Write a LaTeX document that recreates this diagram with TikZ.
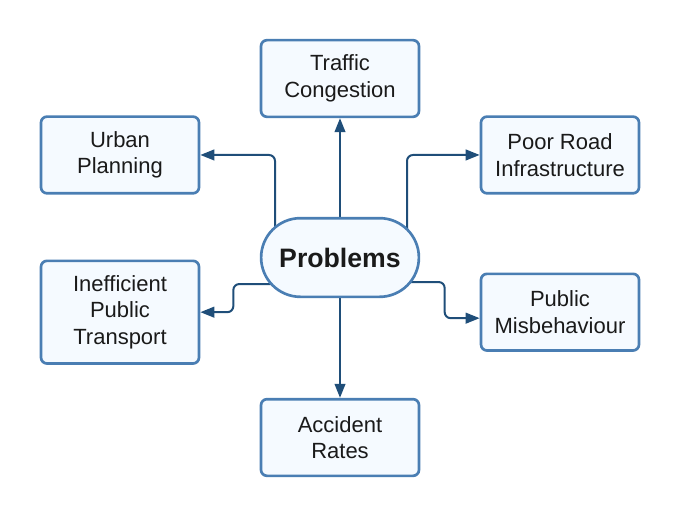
\documentclass[tikz,border=0pt]{standalone}
\usepackage{fontspec}
\setmainfont{Liberation Sans}
\usepackage{xcolor}
\usetikzlibrary{positioning, shapes.misc, arrows.meta, backgrounds}

\definecolor{boxline}{HTML}{4A7EB3}
\definecolor{boxfill}{HTML}{F5FAFF}
\definecolor{linkcol}{HTML}{1F4E79}
\definecolor{txt}{HTML}{1A1A1A}

\begin{document}
\begin{tikzpicture}[x=0.75pt, y=-0.75pt, on grid,
    box/.style={draw=boxline, fill=boxfill, line width=2pt, rounded corners=4.5pt,
        minimum width=118.5pt, minimum height=57.5pt, align=center, text=txt,
        font=\fontsize{16.5}{20}\selectfont},
    hub/.style={rounded rectangle, draw=boxline, fill=boxfill, line width=2pt,
        minimum width=125pt, minimum height=59pt, text=txt,
        font=\fontsize{20}{23}\selectfont\bfseries},
    link/.style={draw=linkcol, line width=1.5pt, rounded corners=4.5pt,
        -{Triangle[length=10.5pt, width=8pt]}}]
        \useasboundingbox (0,0) rectangle (680,517);

        \node[hub] (prob) at (340,257.5) {Problems};
        \node[box] (traffic) [above=134.25pt of prob] {Traffic\\Congestion};
        \node[box] (accident) [below=135pt of prob] {Accident\\Rates};
        \node[box] (urban) [above left=76.9pt and 165pt of prob] {Urban\\Planning};
        \node[box] (road) [above right=76.9pt and 165pt of prob] {Poor Road\\Infrastructure};
        \node[box, minimum height=77pt] (transport) [below left=41pt and 165pt of prob] {Inefficient\\Public\\Transport};
        \node[box] (misbehave) [below right=41pt and 165pt of prob] {Public\\Misbehaviour};

        \begin{scope}[on background layer]
        \path[link]
        (prob.center) -- (traffic.south);
        \path[link]
        (prob.center) -- (accident.north);
        \path[link]
        ([xshift=-48.75pt]prob.center) |- (urban.east);
        \path[link]
        ([xshift=50.25pt]prob.center) |- (road.west);
        \path[link]
        ([yshift=-19.9pt]prob.center) -| ([xshift=24.75pt]transport.east) -- (transport.east);
        \path[link]
        ([yshift=-18.4pt]prob.center) -| ([xshift=-26.25pt,yshift=-4.5pt]misbehave.west) -- ([yshift=-4.5pt]misbehave.west);
        \end{scope}

    \end{tikzpicture}
\end{document}
